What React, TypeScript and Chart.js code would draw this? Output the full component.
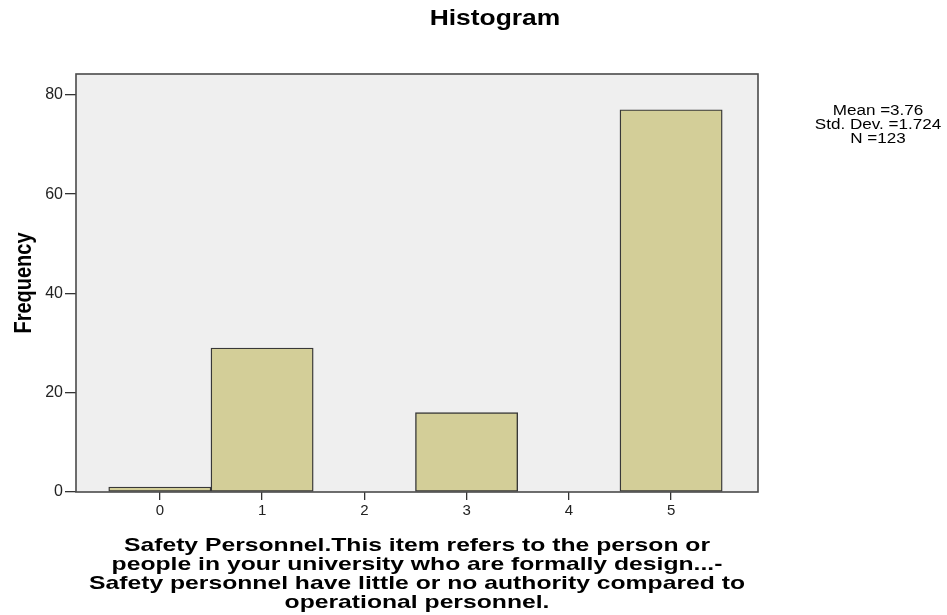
import React, { useEffect, useRef } from "react";
import { Chart, registerables } from "chart.js";

Chart.register(...registerables);

// ---- data ----
const binCenters = [0, 1, 2, 3, 4, 5];
const frequencies = [1, 29, 0, 16, 0, 77];
const xTickValues = [0, 1, 2, 3, 4, 5];
const yTickValues = [0, 20, 40, 60, 80];
const xRange = [-0.82, 5.85];
const yRange = [0, 84.2];

const chartTitle = "Histogram";
const yAxisTitle = "Frequency";
const xAxisTitleLines = [
  "Safety Personnel.This item refers to the person or",
  "people in your university who are formally design...-",
  "Safety personnel have little or no authority compared to",
  "operational personnel.",
];
const statsLines = ["Mean =3.76", "Std. Dev. =1.724", "N =123"];

const FONT = "'Liberation Sans', Arial, Helvetica, sans-serif";

function drawText(
  ctx: CanvasRenderingContext2D,
  text: string,
  x: number,
  y: number,
  font: string,
  sx: number,
  rotate = false
) {
  ctx.save();
  ctx.translate(x, y);
  if (rotate) {
    ctx.rotate(-Math.PI / 2);
    ctx.scale(1, sx);
  } else {
    ctx.scale(sx, 1);
  }
  ctx.font = font;
  ctx.fillStyle = "#000";
  ctx.textAlign = "center";
  ctx.textBaseline = "middle";
  ctx.fillText(text, 0, 0);
  ctx.restore();
}

const framePlugin = {
  id: "spssFrame",
  beforeDatasetsDraw(chart: any) {
    const { ctx, chartArea: a } = chart;
    ctx.save();
    ctx.fillStyle = "#efefef";
    ctx.fillRect(a.left, a.top, a.right - a.left, a.bottom - a.top);
    ctx.restore();
  },
  afterDraw(chart: any) {
    const { ctx, chartArea: a } = chart;
    ctx.save();
    ctx.strokeStyle = "#4a4a4a";
    ctx.lineWidth = 1.6;
    ctx.strokeRect(a.left, a.top, a.right - a.left, a.bottom - a.top);
    ctx.restore();

    const cx = (a.left + a.right) / 2;
    const cy = (a.top + a.bottom) / 2;
    drawText(ctx, chartTitle, 495, 19, `bold 22px ${FONT}`, 1.2);
    statsLines.forEach((t, i) => drawText(ctx, t, 878, 111 + i * 14, `14px ${FONT}`, 1.22));
    xAxisTitleLines.forEach((t, i) =>
      drawText(ctx, t, cx, 546 + i * 19, `bold 19px ${FONT}`, 1.3)
    );
    drawText(ctx, yAxisTitle, 24, cy, `bold 20px ${FONT}`, 1.2, true);
  },
};

export default function App() {
  const ref = useRef<HTMLCanvasElement | null>(null);

  useEffect(() => {
    document.body.style.margin = "0";
    if (!ref.current) return;
    const points = binCenters
      .map((x, i) => ({ x, y: frequencies[i] }))
      .filter((p) => p.y > 0);

    const chart = new Chart(ref.current, {
      type: "bar",
      data: {
        datasets: [
          {
            data: points as any,
            backgroundColor: "#d3ce98",
            borderColor: "#383838",
            borderWidth: 1.4,
            borderSkipped: false,
            barPercentage: 1,
            categoryPercentage: 1,
          },
        ],
      },
      options: {
        animation: false,
        responsive: true,
        maintainAspectRatio: false,
        layout: { padding: { top: 74, right: 189, left: 0, bottom: 0 } },
        plugins: {
          legend: { display: false },
          title: { display: false },
          tooltip: { enabled: false },
        },
        scales: {
          x: {
            type: "linear",
            min: xRange[0],
            max: xRange[1],
            offset: false,
            afterBuildTicks: (s: any) => {
              s.ticks = xTickValues.map((v) => ({ value: v }));
            },
            afterFit: (s: any) => {
              s.height = 123;
            },
            grid: {
              display: true,
              offset: false,
              drawOnChartArea: false,
              drawTicks: true,
              tickLength: 8,
              color: "#333",
              lineWidth: 1.3,
            },
            border: { display: false },
            ticks: {
              color: "#222",
              padding: 2,
              font: { family: FONT, size: 15 },
              maxRotation: 0,
              callback: (v: any) => String(v),
            },
          },
          y: {
            min: yRange[0],
            max: yRange[1],
            afterBuildTicks: (s: any) => {
              s.ticks = yTickValues.map((v) => ({ value: v }));
            },
            afterFit: (s: any) => {
              s.width = 76;
            },
            grid: {
              display: true,
              drawOnChartArea: false,
              drawTicks: true,
              tickLength: 11,
              color: "#333",
              lineWidth: 1.3,
            },
            border: { display: false },
            ticks: {
              color: "#222",
              padding: 2,
              font: { family: FONT, size: 16 },
              callback: (v: any) => String(v),
            },
          },
        },
      },
      plugins: [framePlugin],
    });
    return () => chart.destroy();
  }, []);

  return (
    <div style={{ position: "relative", width: 947, height: 615, background: "#fff" }}>
      <canvas ref={ref} />
    </div>
  );
}
